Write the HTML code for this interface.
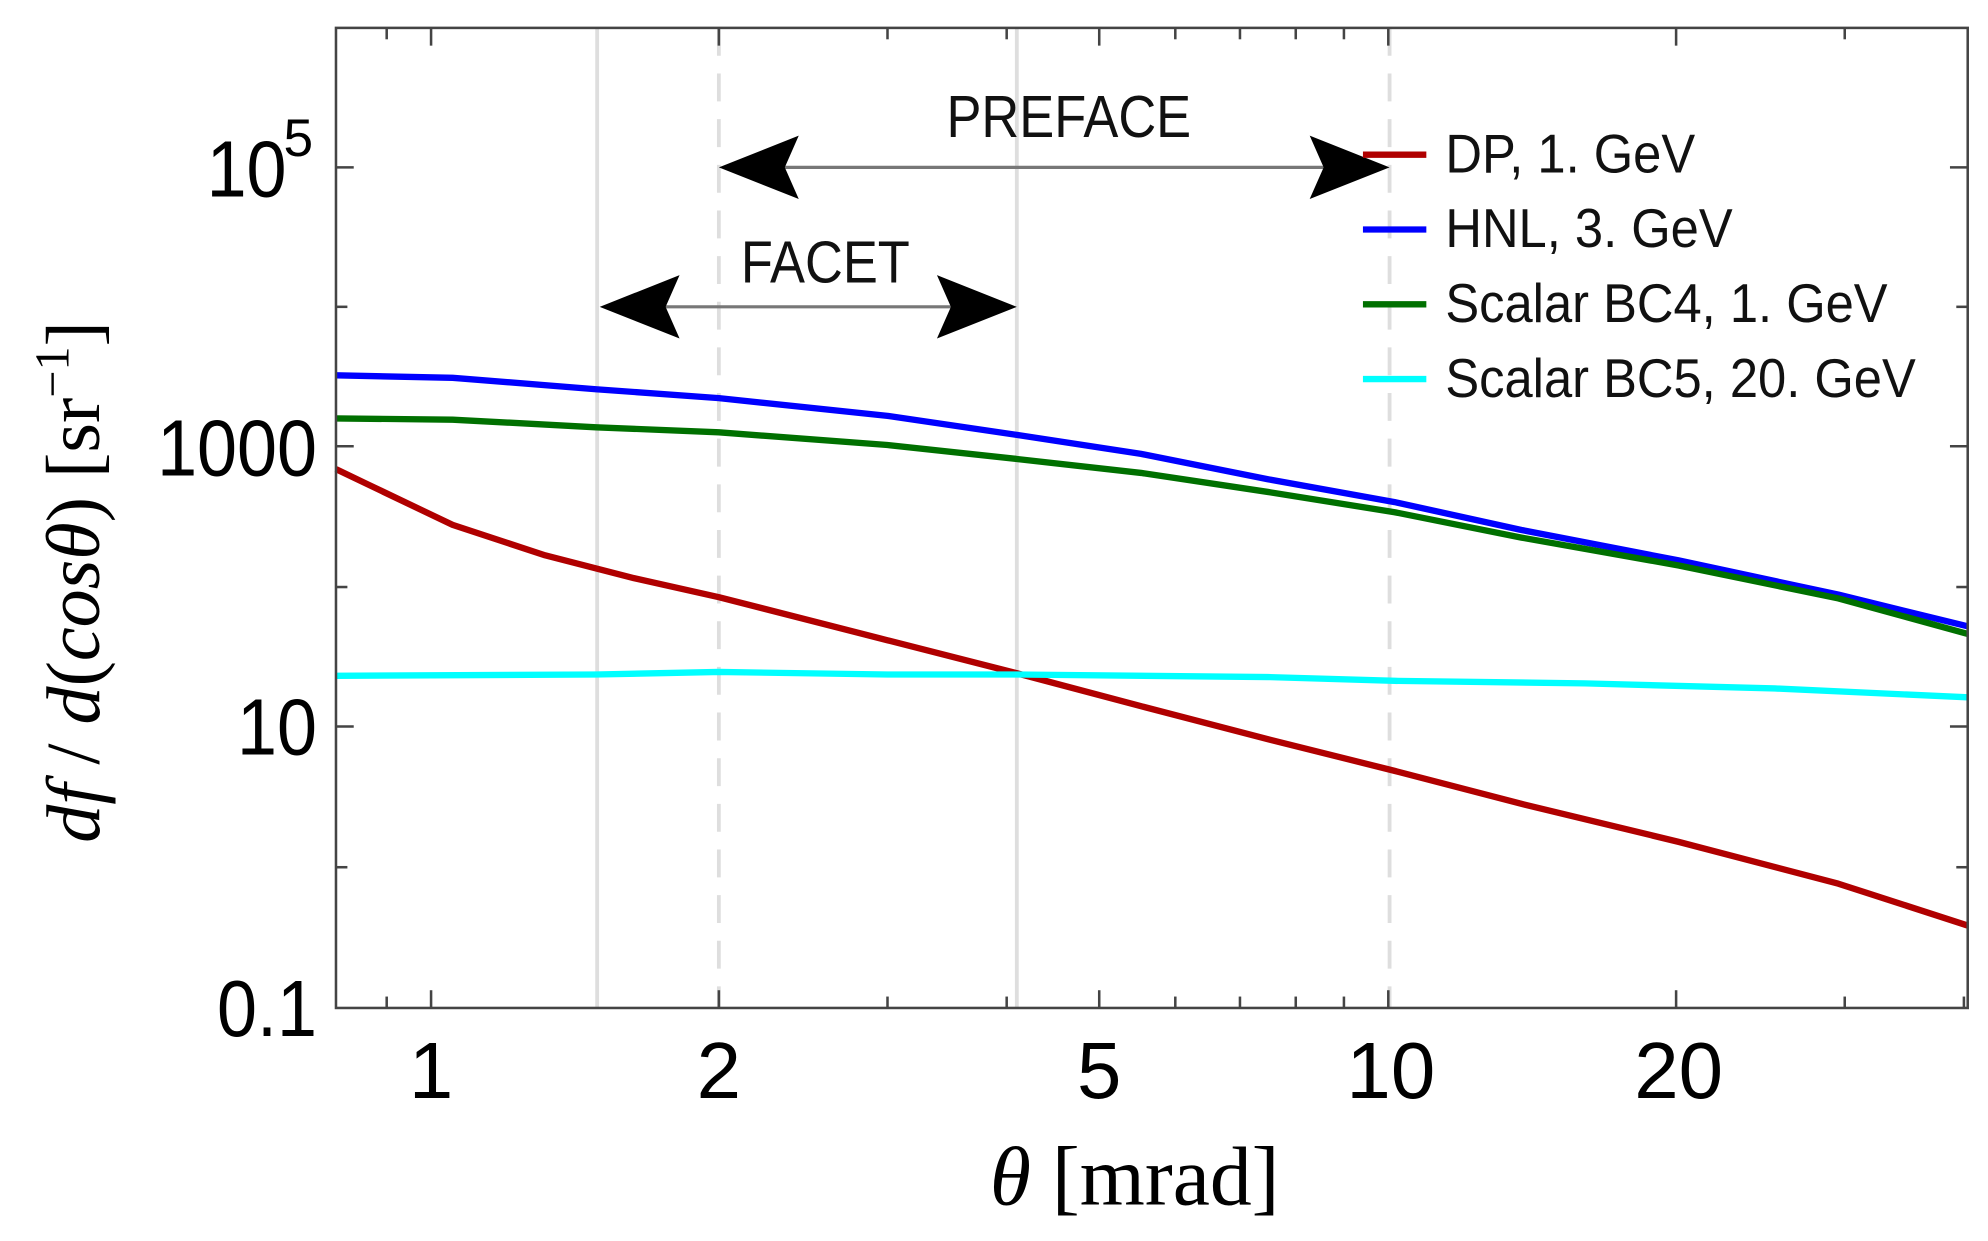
<!DOCTYPE html>
<html><head><meta charset="utf-8"><style>html,body{margin:0;padding:0;background:#fff;}svg{display:block}</style></head>
<body>
<svg width="1988" height="1241" viewBox="0 0 1568 978.8" preserveAspectRatio="none" xmlns="http://www.w3.org/2000/svg">
<rect width="1568" height="979" fill="#fff"/>
<g stroke="#dedede" stroke-width="3">
<line x1="471" y1="22" x2="471" y2="795"/>
<line x1="802" y1="22" x2="802" y2="795"/>
<line x1="567" y1="22" x2="567" y2="795" stroke-dasharray="22,14"/>
<line x1="1096" y1="22" x2="1096" y2="795" stroke-dasharray="22,14"/>
</g>
<g stroke="#777" stroke-width="2.5">
<line x1="600" y1="132" x2="1060" y2="132"/>
<line x1="505" y1="242" x2="770" y2="242"/>
</g>
<g fill="#000">
<path d="M567,132 L630,107 L619,132 L630,157 Z"/>
<path d="M1096,132 L1033,107 L1044,132 L1033,157 Z"/>
<path d="M473,242 L536,217 L525,242 L536,267 Z"/>
<path d="M802,242 L739,217 L750,242 L739,267 Z"/>
</g>
<g font-family="Liberation Sans, Arial, sans-serif" font-size="47" fill="#111">
<text x="843" y="108" text-anchor="middle" transform="translate(843 0) scale(0.88 1) translate(-843 0)">PREFACE</text>
<text x="651" y="223" text-anchor="middle" transform="translate(651 0) scale(0.88 1) translate(-651 0)">FACET</text>
</g>
<g fill="none" stroke-width="5" stroke-linejoin="round">
<polyline stroke="#0000ff" points="265,296 357,298 470,307 567,314 700,328 802,343 900,358 1000,378 1100,396 1200,418 1324,442 1450,469 1552,494"/>
<polyline stroke="#007000" points="265,330 357,331 470,337 567,341 700,351 802,362 900,373 1000,388 1100,404 1200,424 1324,446 1450,472 1552,500"/>
<polyline stroke="#b00000" points="265,370 290,382 357,414 430,438 500,456 567,471 700,505 802,531 900,557 1000,583 1100,608 1200,634 1324,664 1450,697 1552,730"/>
<polyline stroke="#00ffff" points="265,533 470,532 567,530 700,532 802,532 1000,534 1100,537 1250,539 1400,543 1552,550"/>
</g>
<g stroke-width="5">
<line x1="1075" y1="122" x2="1125" y2="122" stroke="#b00000"/>
<line x1="1075" y1="181" x2="1125" y2="181" stroke="#0000ff"/>
<line x1="1075" y1="240" x2="1125" y2="240" stroke="#007000"/>
<line x1="1075" y1="299" x2="1125" y2="299" stroke="#00ffff"/>
</g>
<g font-family="Liberation Sans, Arial, sans-serif" font-size="43" fill="#111">
<text x="1140" y="136" transform="translate(1140 0) scale(0.93 1) translate(-1140 0)">DP, 1. GeV</text>
<text x="1140" y="195" transform="translate(1140 0) scale(0.93 1) translate(-1140 0)">HNL, 3. GeV</text>
<text x="1140" y="254" transform="translate(1140 0) scale(0.93 1) translate(-1140 0)">Scalar BC4, 1. GeV</text>
<text x="1140" y="313" transform="translate(1140 0) scale(0.93 1) translate(-1140 0)">Scalar BC5, 20. GeV</text>
</g>
<rect x="265" y="22" width="1287" height="773" fill="none" stroke="#444" stroke-width="2"/>
<g stroke="#444" stroke-width="2">
<line x1="340" y1="795" x2="340" y2="781"/><line x1="340" y1="22" x2="340" y2="36"/>
<line x1="567" y1="795" x2="567" y2="781"/><line x1="567" y1="22" x2="567" y2="36"/>
<line x1="867" y1="795" x2="867" y2="781"/><line x1="867" y1="22" x2="867" y2="36"/>
<line x1="1095" y1="795" x2="1095" y2="781"/><line x1="1095" y1="22" x2="1095" y2="36"/>
<line x1="1322" y1="795" x2="1322" y2="781"/><line x1="1322" y1="22" x2="1322" y2="36"/>
<line x1="305" y1="795" x2="305" y2="786"/><line x1="305" y1="22" x2="305" y2="31"/>
<line x1="700" y1="795" x2="700" y2="786"/><line x1="700" y1="22" x2="700" y2="31"/>
<line x1="794" y1="795" x2="794" y2="786"/><line x1="794" y1="22" x2="794" y2="31"/>
<line x1="927" y1="795" x2="927" y2="786"/><line x1="927" y1="22" x2="927" y2="31"/>
<line x1="978" y1="795" x2="978" y2="786"/><line x1="978" y1="22" x2="978" y2="31"/>
<line x1="1022" y1="795" x2="1022" y2="786"/><line x1="1022" y1="22" x2="1022" y2="31"/>
<line x1="1060" y1="795" x2="1060" y2="786"/><line x1="1060" y1="22" x2="1060" y2="31"/>
<line x1="1455" y1="795" x2="1455" y2="786"/><line x1="1455" y1="22" x2="1455" y2="31"/>
<line x1="1549" y1="795" x2="1549" y2="786"/>
<line x1="265" y1="132" x2="279" y2="132"/><line x1="1552" y1="132" x2="1538" y2="132"/>
<line x1="265" y1="352" x2="279" y2="352"/><line x1="1552" y1="352" x2="1538" y2="352"/>
<line x1="265" y1="573" x2="279" y2="573"/><line x1="1552" y1="573" x2="1538" y2="573"/>
<line x1="265" y1="242" x2="274" y2="242"/><line x1="1552" y1="242" x2="1543" y2="242"/>
<line x1="265" y1="463" x2="274" y2="463"/><line x1="1552" y1="463" x2="1543" y2="463"/>
<line x1="265" y1="684" x2="274" y2="684"/><line x1="1552" y1="684" x2="1543" y2="684"/>
</g>
<g font-family="Liberation Sans, Arial, sans-serif" font-size="63" fill="#000" text-anchor="middle">
<text x="340" y="866">1</text>
<text x="567" y="866">2</text>
<text x="867" y="866">5</text>
<text x="1097" y="866">10</text>
<text x="1324" y="866">20</text>
</g>
<g font-family="Liberation Sans, Arial, sans-serif" font-size="63" fill="#000" text-anchor="end">
<text x="226" y="155" transform="translate(226 0) scale(0.9 1) translate(-226 0)">10</text><text x="247" y="123" font-size="42">5</text>
<text x="250" y="375" transform="translate(250 0) scale(0.9 1) translate(-250 0)">1000</text>
<text x="250" y="595" transform="translate(250 0) scale(0.9 1) translate(-250 0)">10</text>
<text x="250" y="817" transform="translate(250 0) scale(0.9 1) translate(-250 0)">0.1</text>
</g>
<text x="895" y="950" text-anchor="middle" font-family="Liberation Serif, serif" font-size="66" fill="#000"><tspan font-style="italic">θ</tspan> [mrad]</text>
<text transform="translate(78 459) rotate(-90)" text-anchor="middle" font-family="Liberation Serif, serif" font-size="60" fill="#000"><tspan font-style="italic">df</tspan> / <tspan font-style="italic">d</tspan>(<tspan font-style="italic">cosθ</tspan>) [sr<tspan font-size="38" dy="-24">−1</tspan><tspan dy="24">]</tspan></text>
</svg>
</body></html>
